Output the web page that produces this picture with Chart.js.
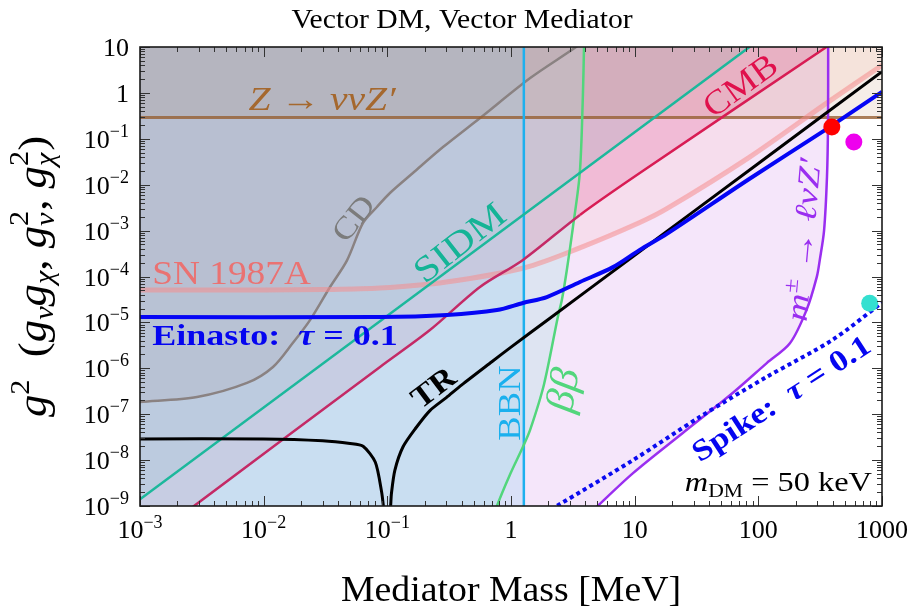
<!DOCTYPE html>
<html>
<head>
<meta charset="utf-8">
<title>Vector DM, Vector Mediator</title>
<script src="https://cdn.jsdelivr.net/npm/chart.js@4.4.1/dist/chart.umd.min.js"></script>
<style>
  html, body { margin: 0; padding: 0; background: #fff; }
</style>
</head>
<body>
<canvas id="chart" width="913" height="608"></canvas>
<script>
// Bounds on g^2 vs mediator mass (MeV), each curve as [mass, g2] pairs
const xTickValues = [1e-3, 1e-2, 1e-1, 1, 10, 100, 1000];
const yTickValues = [1e-9, 1e-8, 1e-7, 1e-6, 1e-5, 1e-4, 1e-3, 1e-2, 1e-1, 1, 10];

const zBound = 0.29;      // Z -> nu nu Z'
const bbnMass = 1.27;     // BBN lower mass limit

const cdCurve = [[1e-3, 1.85e-7], [2.89e-3, 2.37e-7], [7.33e-3, 4.8e-7], [0.0119, 1.07e-6], [0.01725, 3.6e-6],
  [0.0237, 1.12e-5], [0.0344, 5.9e-5], [0.0472, 2.25e-4], [0.0636, 1.47e-3], [0.0824, 3.27e-3], [0.105, 6.6e-3],
  [0.161, 0.018], [0.282, 0.066], [0.562, 0.284], [1.43, 2.11], [3.36, 10], [4.2, 16]];
const sidmLine = [[1e-3, 1.4e-9], [120, 20]];
const cmbCurve = [[2.68e-3, 9.6e-10], [0.0873, 1.07e-6], [0.221, 6.8e-6], [0.561, 5.9e-5], [1.25, 2.3e-4],
  [3.61, 2.2e-3], [11.0, 0.018], [346, 9.5], [420, 13.5]];
const snCurve = [[1e-3, 5.1e-5], [0.01, 5.1e-5], [0.03, 5.2e-5], [0.087, 5.6e-5], [0.3, 7.6e-5], [1.29, 1.55e-4],
  [3.6, 4.2e-4], [11, 1.5e-3], [18.2, 3.0e-3], [85, 0.04], [366, 0.63], [1000, 4.0]];
const einastoCurve = [[1e-3, 1.31e-5], [0.0873, 1.31e-5], [0.303, 1.45e-5], [0.77, 1.86e-5], [1.25, 2.65e-5],
  [1.95, 3.57e-5], [3.61, 7.6e-5], [6.68, 1.6e-4], [11.0, 3.8e-4], [18.2, 8.5e-4], [85, 0.0135], [346, 0.155], [1000, 1.05]];
const trCurve = [[1e-3, 2.9e-8], [0.01, 2.9e-8], [0.03, 2.65e-8], [0.05, 2.3e-8], [0.0637, 2e-8], [0.08, 9e-9],
  [0.09, 2e-9], [0.096, 6e-10], [0.104, 6e-10], [0.108, 1.9e-9], [0.115, 6e-9], [0.134, 1.95e-8], [0.17, 5e-8],
  [0.221, 1.2e-7], [0.3, 2.3e-7], [0.4, 4.35e-7], [0.7, 1.39e-6], [1, 2.9e-6], [2, 1.16e-5], [10, 2.9e-4],
  [100, 0.029], [1000, 2.9]];
const bbCurve = [[0.72, 5e-10], [0.77, 1e-9], [0.98, 4.8e-9], [1.25, 1.95e-8], [1.43, 4.6e-8], [1.85, 4.5e-7],
  [2.39, 1.3e-5], [2.58, 3.1e-5], [2.83, 1.4e-4], [3.17, 1.2e-3], [3.6, 0.018], [3.81, 0.8], [3.9, 12]];
const mesonCurve = [[4.6, 8e-10], [9.7, 5.2e-9], [24.5, 3.9e-8], [62, 2.9e-7], [117, 1.3e-6], [180, 3.5e-6],
  [246, 1.9e-5], [297, 9.8e-5], [314, 2.3e-4], [340, 1.0e-3], [359, 0.0148], [366, 0.21], [367, 12]];
const spikeCurve = [[2.1, 8.3e-10], [2.35, 1e-9], [9.7, 1e-8], [33.6, 8.7e-8], [117, 6.5e-7], [400, 4.2e-6], [1000, 2.7e-5]];

const redPoint = [[393, 0.18]];
const magentaPoint = [[592, 0.085]];
const cyanPoint = [[795, 2.6e-5]];

const XMIN = 1e-3, XMAX = 1000, YMIN = 1e-9, YMAX = 10;
const SERIF = '"Liberation Serif", "DejaVu Serif", serif';

const xy = pts => pts.map(([x, y]) => ({x, y}));

// closed regions built from the curves plus plot corners
const regions = {
  meson: mesonCurve.concat([[XMIN, YMAX], [XMIN, YMIN]]),
  bb: bbCurve.concat([[XMIN, YMAX], [XMIN, YMIN]]),
  bbn: [[XMIN, YMIN], [bbnMass, YMIN], [bbnMass, YMAX], [XMIN, YMAX]],
  z: [[XMIN, zBound], [XMAX, zBound], [XMAX, YMAX], [XMIN, YMAX]],
  sn: snCurve.concat([[XMAX, YMAX], [XMIN, YMAX]]),
  cmb: cmbCurve.concat([[XMIN, 13.5], [XMIN, YMIN]]),
  sidm: sidmLine.concat([[XMIN, 20]]),
  cd: cdCurve.concat([[XMIN, 16]])
};

function area(pts, color, order) {
  return { data: xy(pts), fill: 'shape', backgroundColor: color, borderColor: 'transparent',
    borderWidth: 0, pointRadius: 0, tension: 0, order };
}
function curve(pts, color, width, order, extra) {
  return Object.assign({ data: xy(pts), fill: false, borderColor: color, borderWidth: width,
    pointRadius: 0, tension: 0.3, order }, extra || {});
}
function dot(pts, color) {
  return { data: xy(pts), showLine: false, pointRadius: 8.5, pointBackgroundColor: color,
    pointBorderWidth: 0, order: 1 };
}

const datasets = [
  area(regions.meson, 'rgba(205,130,230,0.2)', 100),
  area(regions.sn, 'rgba(255,140,115,0.1)', 95),
  area(regions.cmb, 'rgba(230,110,160,0.3)', 90),
  area(regions.sidm, 'rgba(120,165,170,0.2)', 85),
  area(regions.bb, 'rgba(170,222,222,0.3)', 80),
  area(regions.bbn, 'rgba(160,212,238,0.32)', 75),
  area(regions.cd, 'rgba(150,120,120,0.1)', 70),
  area(regions.z, 'rgba(160,100,50,0.11)', 65),

  curve(cdCurve, '#8a8282', 2.5, 50),
  curve([[XMIN, zBound], [XMAX, zBound]], 'rgba(150,95,50,0.8)', 3, 49, {tension: 0}),
  curve(snCurve, 'rgba(245,140,140,0.55)', 5, 48),
  curve([[bbnMass, YMIN], [bbnMass, YMAX]], '#1eb0ee', 2.5, 47, {tension: 0}),
  curve(bbCurve, '#52d67c', 2.5, 46),
  curve(mesonCurve, '#9a2ef0', 2.5, 45),
  curve(sidmLine, '#1cb89c', 2.5, 44, {tension: 0}),
  // CMB edge reads darker where it crosses the blue BBN / double-beta bands
  curve(cmbCurve, '#d81c54', 2.5, 43, {segment: {borderColor: c => c.p0.parsed.x < 3.3 ? '#c42a66' : undefined}}),
  curve(trCurve, '#000000', 3, 40, {tension: 0.25}),
  curve(spikeCurve, '#0a0af0', 4, 39, {borderDash: [4, 3.5]}),
  curve(einastoCurve, '#0505f5', 4, 38),

  dot(redPoint, '#ff0000'),
  dot(magentaPoint, '#ee00ee'),
  dot(cyanPoint, '#34e0d0')
];

const font = r => `${r.st || ''} ${r.s}px ${SERIF}`;

function runsWidth(ctx, runs) {
  let w = 0;
  for (const r of runs) {
    ctx.font = font(r);
    if (r.sub != null) w += Math.max(ctx.measureText(r.sub).width, ctx.measureText(r.sup).width);
    else w += ctx.measureText(r.t).width;
  }
  return w;
}

// draws a row of styled text pieces (super/subscripts via dy offsets),
// sx widens the serif face a little
function drawRich(ctx, runs, px, py, angle, align, vcenter, sx) {
  ctx.save();
  ctx.translate(px, py);
  ctx.rotate(angle * Math.PI / 180);
  ctx.scale(sx || 1, 1);
  ctx.textBaseline = 'alphabetic';
  ctx.textAlign = 'left';
  const w = runsWidth(ctx, runs);
  let cx = align === 'center' ? -w / 2 : align === 'right' ? -w : 0;
  const base = vcenter ? runs[0].s * 0.34 : 0;
  for (const r of runs) {
    ctx.font = font(r);
    if (r.sub != null) {
      ctx.fillText(r.sub, cx, base + r.s * 0.3);
      ctx.font = font({s: r.s});
      ctx.fillText(r.sup, cx, base - r.s * 0.65);
      ctx.font = font(r);
      cx += Math.max(ctx.measureText(r.sub).width, ctx.measureText(r.sup).width);
    } else {
      ctx.fillText(r.t, cx, base + (r.dy || 0));
      cx += ctx.measureText(r.t).width;
    }
  }
  ctx.restore();
}

const labels = [
  {at: [0.0297, 0.736], sx: 1.2, color: '#a5682e', runs: [{t: 'Z', s: 33, st: 'italic'}, {t: ' → ', s: 33}, {t: 'ννZ′', s: 33, st: 'italic'}]},
  {at: [0.0527, 1.88e-3], angle: -52, sx: 1.15, color: '#7c7c7c', runs: [{t: 'CD', s: 31}]},
  {at: [0.38, 5.6e-4], angle: -38, sx: 1.18, color: '#14b496', runs: [{t: 'SIDM', s: 36}]},
  {at: [5.5e-3, 1.2e-4], sx: 1.13, color: '#ea7272', runs: [{t: 'SN 1987A', s: 33}]},
  {at: [0.01236, 5.4e-6], sx: 1.2, color: '#0505f0', runs: [{t: 'Einasto:  ', s: 30, st: 'bold'}, {t: 'τ', s: 30, st: 'italic bold'}, {t: ' = 0.1', s: 30, st: 'bold'}]},
  {at: [0.234, 3.9e-7], angle: -37, sx: 1.1, color: '#000', runs: [{t: 'TR', s: 31, st: 'bold'}]},
  {at: [0.964, 1.75e-7], angle: -90, sx: 1.18, color: '#1ab0ee', runs: [{t: 'BBN', s: 31}]},
  {at: [2.58, 3.4e-7], angle: -80, sx: 1.1, color: '#52d67c', runs: [{t: 'ββ', s: 40, st: 'italic'}]},
  {at: [71, 1.49], angle: -36, sx: 1.1, color: '#e0104c', runs: [{t: 'CMB', s: 34}]},
  {at: [230, 6.3e-4], angle: -85, sx: 1.25, color: '#9a2ef0', runs: [{t: 'm', s: 31, st: 'italic'}, {t: '±', s: 21, dy: -12}, {t: ' → ', s: 31}, {t: 'ℓνZ′', s: 31, st: 'italic'}]},
  {at: [152, 2.25e-7], angle: -33, sx: 1.15, color: '#0505f0', runs: [{t: 'Spike:  ', s: 30, st: 'bold'}, {t: 'τ', s: 30, st: 'italic bold'}, {t: ' = 0.1', s: 30, st: 'bold'}]},
  {at: [830, 2.1e-9], align: 'right', vcenter: false, sx: 1.2, color: '#000', runs: [{t: 'm', s: 27, st: 'italic'}, {t: 'DM', s: 18, dy: 6}, {t: ' = 50 keV', s: 27}]}
];

const yTitle = [
  {t: 'g', s: 40, st: 'italic'}, {t: '2', s: 27, dy: -17}, {t: '  (', s: 40},
  {t: 'g', s: 40, st: 'italic'}, {t: 'ν', s: 27, st: 'italic', dy: 7}, {t: 'g', s: 40, st: 'italic'}, {t: 'χ', s: 27, st: 'italic', dy: 7},
  {t: ', ', s: 40}, {t: 'g', s: 40, st: 'italic'}, {sub: 'ν', sup: '2', s: 27, st: 'italic'},
  {t: ', ', s: 40}, {t: 'g', s: 40, st: 'italic'}, {sub: 'χ', sup: '2', s: 27, st: 'italic'}, {t: ')', s: 40}
];

function tickParts(v) {
  if (v >= 1) return [String(Math.round(v)), ''];
  return ['10', '−' + Math.round(-Math.log10(v))];
}

const decor = {
  id: 'decor',
  afterDatasetsDraw(chart) {
    const {ctx, scales: {x, y}} = chart;
    for (const lb of labels) {
      ctx.fillStyle = lb.color;
      drawRich(ctx, lb.runs, x.getPixelForValue(lb.at[0]), y.getPixelForValue(lb.at[1]),
        lb.angle || 0, lb.align || 'center', lb.vcenter !== false, lb.sx);
    }
  },
  afterDraw(chart) {
    const {ctx, chartArea: a, scales: {x, y}} = chart;
    ctx.save();
    // minor and major ticks on all four sides, pointing inward
    ctx.strokeStyle = '#333';
    ctx.lineWidth = 1;
    ctx.beginPath();
    const decades = (lo, hi, fn) => {
      for (let e = Math.round(Math.log10(lo)); e < Math.round(Math.log10(hi)); e++) {
        for (let k = 1; k < 10; k++) fn(k * Math.pow(10, e), k === 1);
      }
      fn(hi, true);
    };
    decades(XMIN, XMAX, (v, major) => {
      const p = Math.round(x.getPixelForValue(v)) + 0.5, len = major ? 10 : 5;
      ctx.moveTo(p, a.bottom); ctx.lineTo(p, a.bottom - len);
      ctx.moveTo(p, a.top); ctx.lineTo(p, a.top + len);
    });
    decades(YMIN, YMAX, (v, major) => {
      const p = Math.round(y.getPixelForValue(v)) + 0.5, len = major ? 10 : 5;
      ctx.moveTo(a.left, p); ctx.lineTo(a.left + len, p);
      ctx.moveTo(a.right, p); ctx.lineTo(a.right - len, p);
    });
    ctx.stroke();
    ctx.strokeStyle = '#1a1a1a';
    ctx.lineWidth = 1.6;
    ctx.strokeRect(a.left, a.top, a.right - a.left, a.bottom - a.top);

    // tick labels
    ctx.fillStyle = '#000';
    ctx.textBaseline = 'alphabetic';
    ctx.textAlign = 'left';
    const big = `26px ${SERIF}`, small = `18px ${SERIF}`;
    for (const v of xTickValues) {
      const [b, s] = tickParts(v);
      ctx.font = big; const wb = ctx.measureText(b).width;
      ctx.font = small; const ws = s ? ctx.measureText(s).width : 0;
      const x0 = x.getPixelForValue(v) - (wb + ws) / 2;
      ctx.font = big; ctx.fillText(b, x0, a.bottom + 32);
      ctx.font = small; if (s) ctx.fillText(s, x0 + wb, a.bottom + 22);
    }
    for (const v of yTickValues) {
      const [b, s] = tickParts(v);
      ctx.font = big; const wb = ctx.measureText(b).width;
      ctx.font = small; const ws = s ? ctx.measureText(s).width : 0;
      const py = y.getPixelForValue(v), x1 = a.left - 11;
      ctx.font = big; ctx.fillText(b, x1 - ws - wb, py + 9);
      ctx.font = small; if (s) ctx.fillText(s, x1 - ws, py - 2);
    }

    // titles
    drawRich(ctx, [{t: 'Vector DM, Vector Mediator', s: 28}], 462, 28, 0, 'center', false, 1.06);
    drawRich(ctx, [{t: 'Mediator Mass [MeV]', s: 36}], (a.left + a.right) / 2, 601, 0, 'center', false, 1.05);
    drawRich(ctx, yTitle, 46, (a.top + a.bottom) / 2, -90, 'center', false, 1.12);
    ctx.restore();
  }
};

new Chart(document.getElementById('chart'), {
  type: 'line',
  data: { datasets },
  options: {
    responsive: false,
    animation: false,
    events: [],
    layout: { padding: { left: 140, right: 31, top: 47, bottom: 102 } },
    scales: {
      x: { type: 'logarithmic', min: XMIN, max: XMAX, display: false },
      y: { type: 'logarithmic', min: YMIN, max: YMAX, display: false }
    },
    plugins: { legend: { display: false }, tooltip: { enabled: false } }
  },
  plugins: [decor]
});
</script>
</body>
</html>
